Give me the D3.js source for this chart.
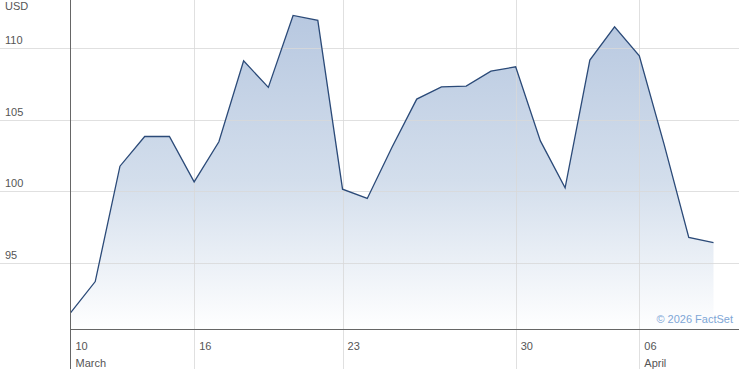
<!DOCTYPE html>
<html>
<head>
<meta charset="utf-8">
<script src="https://cdn.jsdelivr.net/npm/d3@7"></script>
<style>
  body { margin: 0; background: #fff; }
  text { font-family: "Liberation Sans", Arial, sans-serif; }
</style>
</head>
<body>
<div id="chart"></div>
<script>
// closing prices, one per trading point
var prices = [91.47, 93.67, 101.75, 103.83, 103.83, 100.65, 103.46, 109.13, 107.27, 112.31,
    111.96, 100.14, 99.49, 103.08, 106.45, 107.31, 107.36, 108.41, 108.71, 103.52,
    100.23, 109.18, 111.51, 109.48, 103.29, 96.76, 96.40];

// x axis ticks (index into prices) and their labels
var tickIndex = [0, 5, 11, 18, 23];
var tickLabels = ["10", "16", "23", "30", "06"];
var monthLabels = ["March", "", "", "", "April"];

// y axis ticks
var yTicks = [95, 100, 105, 110];

//svg size
var svgWidth = 739;
var svgHeight = 369;

var plotLeft = 70.5;
var plotBottom = 329.5;

var svg = d3.select("#chart").append("svg")
    .attr("width", svgWidth)
    .attr("height", svgHeight);

var xScale = d3.scaleLinear()
    .domain([0, prices.length - 1])
    .range([plotLeft, 713.5]);

var yScale = d3.scaleLinear()
    .domain([90.31, 113.39])
    .range([plotBottom, 0]);

//gradient for the area
var grad = svg.append("defs").append("linearGradient")
    .attr("id", "areaFill")
    .attr("gradientUnits", "userSpaceOnUse")
    .attr("x1", 0).attr("y1", 0)
    .attr("x2", 0).attr("y2", plotBottom);
grad.append("stop").attr("offset", "0%").attr("stop-color", "#b5c6df");
grad.append("stop").attr("offset", "55%").attr("stop-color", "#d3deec");
grad.append("stop").attr("offset", "100%").attr("stop-color", "#ffffff");

//area + line
var area = d3.area()
    .x((d, i) => xScale(i))
    .y0(plotBottom)
    .y1(d => yScale(d));

var line = d3.line()
    .x((d, i) => xScale(i))
    .y(d => yScale(d));

svg.append("path")
    .datum(prices)
    .attr("d", area)
    .attr("fill", "url(#areaFill)");

//horizontal grid
svg.append("g")
    .selectAll("line")
    .data(yTicks)
    .enter()
    .append("line")
    .attr("x1", 0)
    .attr("x2", svgWidth)
    .attr("y1", d => Math.round(yScale(d)) + 0.5)
    .attr("y2", d => Math.round(yScale(d)) + 0.5)
    .attr("stroke", "#d8d8d8")
    .attr("stroke-opacity", 0.8);

//vertical grid
svg.append("g")
    .selectAll("line")
    .data(tickIndex.slice(1))
    .enter()
    .append("line")
    .attr("x1", d => Math.round(xScale(d)) + 0.5)
    .attr("x2", d => Math.round(xScale(d)) + 0.5)
    .attr("y1", 0)
    .attr("y2", svgHeight)
    .attr("stroke", "#d8d8d8")
    .attr("stroke-opacity", 0.8);

svg.append("path")
    .datum(prices)
    .attr("d", line)
    .attr("fill", "none")
    .attr("stroke", "#2b4a78")
    .attr("stroke-width", 1.3)
    .attr("stroke-linejoin", "miter");

//axis lines
svg.append("line")
    .attr("x1", plotLeft).attr("x2", plotLeft)
    .attr("y1", 0).attr("y2", svgHeight)
    .attr("stroke", "#666");

svg.append("line")
    .attr("x1", plotLeft).attr("x2", svgWidth)
    .attr("y1", plotBottom).attr("y2", plotBottom)
    .attr("stroke", "#666");

//y labels
svg.append("g")
    .selectAll("text")
    .data(yTicks)
    .enter()
    .append("text")
    .attr("x", 5)
    .attr("y", d => yScale(d) - 4)
    .attr("font-size", "11px")
    .attr("fill", "#555")
    .text(d => d);

svg.append("text")
    .attr("x", 5)
    .attr("y", 10)
    .attr("font-size", "11px")
    .attr("fill", "#555")
    .text("USD");

//x labels
svg.append("g")
    .selectAll("text")
    .data(tickIndex)
    .enter()
    .append("text")
    .attr("x", d => xScale(d) + 5)
    .attr("y", 350)
    .attr("font-size", "11px")
    .attr("fill", "#555")
    .text((d, i) => tickLabels[i]);

svg.append("g")
    .selectAll("text")
    .data(tickIndex)
    .enter()
    .append("text")
    .attr("x", d => xScale(d) + 5)
    .attr("y", 367)
    .attr("font-size", "11px")
    .attr("fill", "#555")
    .text((d, i) => monthLabels[i]);

//credit
svg.append("text")
    .attr("x", 733)
    .attr("y", 323)
    .attr("text-anchor", "end")
    .attr("font-size", "11px")
    .attr("fill", "#7ea6d6")
    .text("\u00a9 2026 FactSet");
</script>
</body>
</html>
